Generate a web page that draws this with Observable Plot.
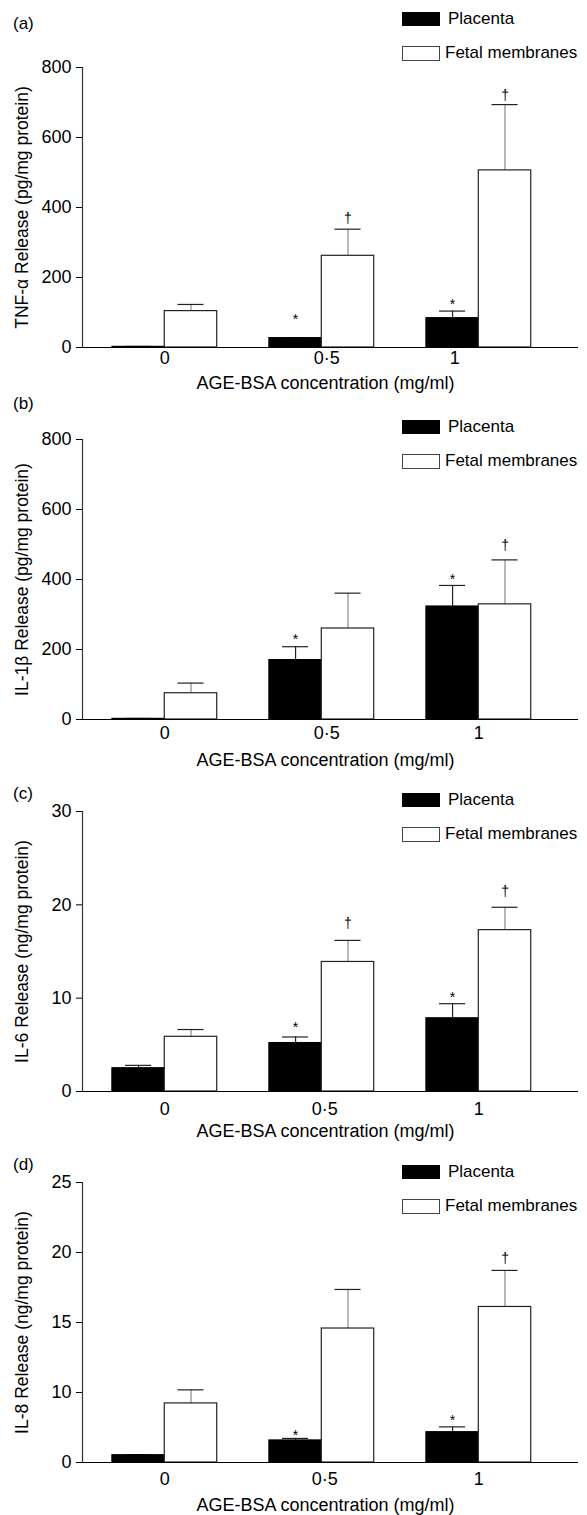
<!DOCTYPE html>
<html><head><meta charset="utf-8">
<script src="https://cdn.jsdelivr.net/npm/d3@7"></script>
<script src="https://cdn.jsdelivr.net/npm/@observablehq/plot@0.6"></script>
<style>
body{margin:0;background:#fff;font-family:"Liberation Sans",Arial,sans-serif;}
#root{position:relative;width:587px;height:1515px;overflow:hidden;}
.abs{position:absolute;white-space:nowrap;color:#000;line-height:20px;}
.box{position:absolute;width:38px;height:14px;box-sizing:border-box;}
</style></head><body><div id="root"></div>
<script>
// ---------- data ----------
const groups = ["0", "0·5", "1"];
const seriesNames = ["Placenta", "Fetal membranes"];
const xTitle = "AGE-BSA concentration (mg/ml)";
const panelLetters = ["(a)", "(b)", "(c)", "(d)"];
const yTitles = [
  "TNF-α Release (pg/mg protein)",
  "IL-1β Release (pg/mg protein)",
  "IL-6 Release (ng/mg protein)",
  "IL-8 Release (ng/mg protein)"
];
const yTicks = [[0, 200, 400, 600, 800], [0, 200, 400, 600, 800], [0, 10, 20, 30], [0, 10, 15, 20, 25]];
const yDomains = [[0, 800], [0, 800], [0, 30], [0, 10, 15, 20, 25]];

// (a) TNF-alpha
const tnfPlacenta = [2, 27, 84];
const tnfPlacentaErr = [1, 1, 20];
const tnfFetal = [104, 262, 506];
const tnfFetalErr = [19, 76, 188];
const tnfPlacentaSig = ["", "*", "*"];
const tnfPlacentaSigAt = [null, 92, 133];
const tnfFetalSig = ["", "†", "†"];
const tnfFetalSigAt = [null, 368, 721];

// (b) IL-1beta
const il1Placenta = [2, 170, 323];
const il1PlacentaErr = [1, 38, 60];
const il1Fetal = [75, 260, 329];
const il1FetalErr = [29, 101, 127];
const il1PlacentaSig = ["", "*", "*"];
const il1PlacentaSigAt = [null, 239, 410];
const il1FetalSig = ["", "", "†"];
const il1FetalSigAt = [null, null, 496];

// (c) IL-6
const il6Placenta = [2.5, 5.2, 7.85];
const il6PlacentaErr = [0.3, 0.64, 1.56];
const il6Fetal = [5.86, 13.88, 17.29];
const il6FetalErr = [0.78, 2.31, 2.45];
const il6PlacentaSig = ["", "*", "*"];
const il6PlacentaSigAt = [null, 7.28, 10.47];
const il6FetalSig = ["", "†", "†"];
const il6FetalSigAt = [null, 18.0, 21.4];

// (d) IL-8
const il8Placenta = [1.05, 3.16, 4.34];
const il8PlacentaErr = [0.05, 0.28, 0.75];
const il8Fetal = [8.44, 14.57, 16.11];
const il8FetalErr = [1.75, 2.79, 2.61];
const il8PlacentaSig = ["", "*", "*"];
const il8PlacentaSigAt = [null, 4.48, 6.6];
const il8FetalSig = ["", "", "†"];
const il8FetalSigAt = [null, null, 19.57];

// ---------- layout (page pixels) ----------
const layout = [
  {top: 67, letterY: 25, legendY: 19, tickPad: 4, titleDy: 36, labelShift: [0, 5, -24]},
  {top: 439, letterY: 405, legendY: 427, tickPad: 7, titleDy: 41, labelShift: [0, 5, 0]},
  {top: 811, letterY: 795, legendY: 800, tickPad: 11, titleDy: 40, labelShift: [0, 3, 0]},
  {top: 1182, letterY: 1166, legendY: 1172, tickPad: 10, titleDy: 43, labelShift: [0, 3, 0]}
];
const plotH = 280, mTop = 20, mBottom = 52, mLeft = 82, mRight = 9;
const xDomain = [-0.524, 2.635];
const barW = 0.334, capHalf = 0.083;

const panelData = [
  [tnfPlacenta, tnfPlacentaErr, tnfPlacentaSig, tnfPlacentaSigAt, tnfFetal, tnfFetalErr, tnfFetalSig, tnfFetalSigAt],
  [il1Placenta, il1PlacentaErr, il1PlacentaSig, il1PlacentaSigAt, il1Fetal, il1FetalErr, il1FetalSig, il1FetalSigAt],
  [il6Placenta, il6PlacentaErr, il6PlacentaSig, il6PlacentaSigAt, il6Fetal, il6FetalErr, il6FetalSig, il6FetalSigAt],
  [il8Placenta, il8PlacentaErr, il8PlacentaSig, il8PlacentaSigAt, il8Fetal, il8FetalErr, il8FetalSig, il8FetalSigAt]
];

const root = document.getElementById("root");
const FONT = "Liberation Sans, Arial, sans-serif";

function addDiv(cls, css, text) {
  const d = document.createElement("div");
  d.className = cls;
  Object.assign(d.style, css);
  if (text != null) d.textContent = text;
  root.appendChild(d);
  return d;
}

panelData.forEach((pd, i) => {
  const L = layout[i];
  const [pv, pe, ps, psy, fv, fe, fs, fsy] = pd;
  const rows = [];
  groups.forEach((g, gi) => {
    [[seriesNames[0], pv, pe, ps, psy, -1], [seriesNames[1], fv, fe, fs, fsy, 1]].forEach(([s, v, e, m, my, side]) => {
      const xc = gi + side * barW / 2;
      rows.push({series: s, xc, x1: xc - barW / 2, x2: xc + barW / 2, v: v[gi], top: v[gi] + e[gi], mark: m[gi], my: my[gi]});
    });
  });
  const pl = rows.filter(d => d.series === seriesNames[0]);
  const fm = rows.filter(d => d.series === seriesNames[1]);
  const stars = rows.filter(d => d.mark === "*");
  const daggers = rows.filter(d => d.mark === "†");

  const xAxes = groups.map((g, gi) =>
    Plot.axisX({ticks: [gi], tickFormat: t => groups[t], tickSize: 0, tickPadding: L.tickPad, dx: L.labelShift[gi], label: null, fontSize: 18})
  );

  const chart = Plot.plot({
    width: 587,
    height: mTop + plotH + mBottom,
    marginTop: mTop, marginBottom: mBottom, marginLeft: mLeft, marginRight: mRight,
    style: {fontFamily: FONT, fontSize: "18px", background: "transparent", color: "#000", overflow: "visible"},
    x: {type: "linear", domain: xDomain},
    y: {type: "linear", domain: yDomains[i]},
    marks: [
      Plot.ruleX(pl, {x: "xc", y1: "v", y2: "top", stroke: "#222", strokeWidth: 1.2}),
      Plot.ruleX(fm, {x: "xc", y1: "v", y2: "top", stroke: "#8a8a8a", strokeWidth: 1.2}),
      Plot.ruleY(rows, {y: "top", x1: d => d.xc - capHalf, x2: d => d.xc + capHalf, stroke: "#222", strokeWidth: 1.2}),
      Plot.rectY(pl, {x1: "x1", x2: "x2", y1: 0, y2: "v", fill: "#000", stroke: "#000", strokeWidth: 1}),
      Plot.rectY(fm, {x1: "x1", x2: "x2", y1: 0, y2: "v", fill: "#fff", stroke: "#222", strokeWidth: 1.2}),
      Plot.text(stars, {x: "xc", y: "my", text: "mark", fontSize: 14, dy: 4, lineAnchor: "middle", fill: "#000"}),
      Plot.text(daggers, {x: "xc", y: "my", text: "mark", fontSize: 14, dy: 0, lineAnchor: "middle", fill: "#000"}),
      Plot.ruleY([0], {stroke: "#000", strokeWidth: 1.2}),
      Plot.ruleX([xDomain[0]], {stroke: "#333", strokeWidth: 1.2}),
      Plot.axisY({ticks: yTicks[i], tickSize: 6, tickPadding: 5, label: null, fontSize: 18}),
      ...xAxes,
      Plot.text([yTitles[i]], {text: d => d, frameAnchor: "left", textAnchor: "middle", dx: -60, rotate: -90, fontSize: 17.5, lineAnchor: "middle", fill: "#000"}),
      Plot.text([xTitle], {text: d => d, frameAnchor: "bottom", textAnchor: "middle", dx: -5, dy: L.titleDy, fontSize: 18, lineAnchor: "middle", fill: "#000"})
    ]
  });
  const wrap = addDiv("", {position: "absolute", left: "0px", top: (L.top - mTop) + "px"});
  wrap.appendChild(chart);

  // panel letter
  addDiv("abs", {left: "13px", top: (L.letterY - 11) + "px", fontSize: "17px"}, panelLetters[i]);
  // legend
  addDiv("box", {left: "402px", top: (L.legendY - 7) + "px", background: "#000", border: "1px solid #000"});
  addDiv("abs", {left: "448px", top: (L.legendY - 10) + "px", fontSize: "17px"}, seriesNames[0]);
  addDiv("box", {left: "402px", top: (L.legendY + 34 - 7) + "px", height: "15px", background: "#fff", border: "1px solid #444"});
  addDiv("abs", {left: "445px", top: (L.legendY + 34 - 10) + "px", fontSize: "17px"}, seriesNames[1]);
});
</script>
</body></html>
